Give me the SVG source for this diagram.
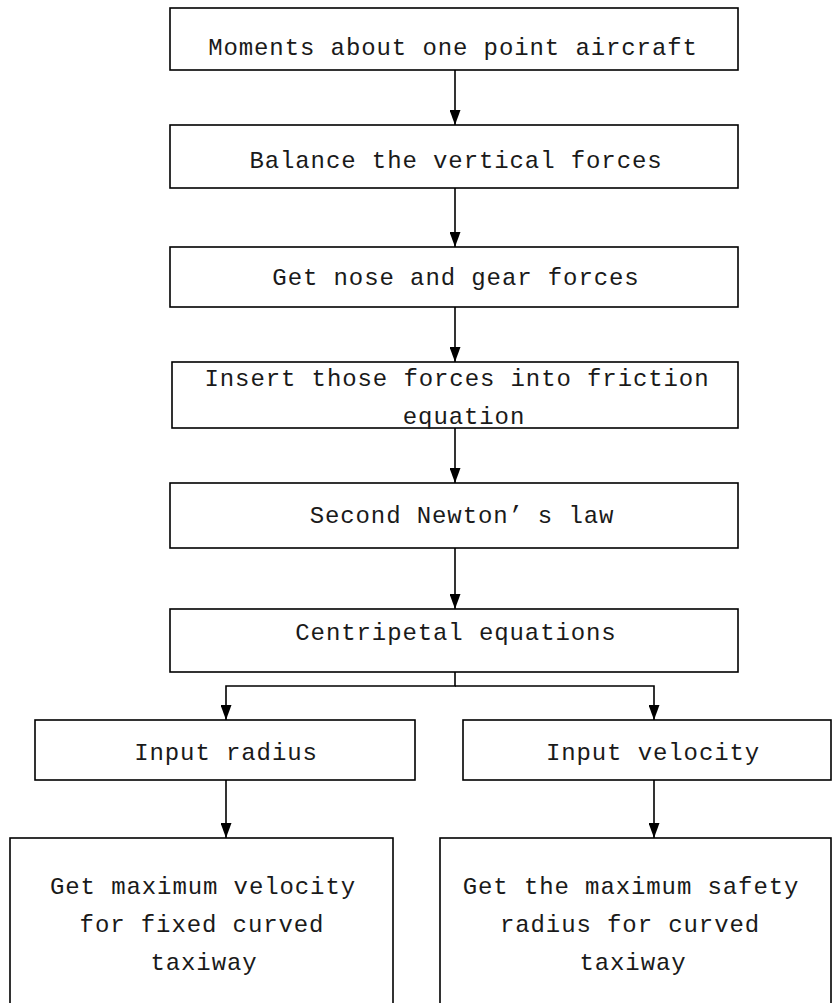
<svg xmlns="http://www.w3.org/2000/svg" width="833" height="1003" viewBox="0 0 833 1003">
<style>
.box{fill:#fff;stroke:#000;stroke-width:1.6}
.t{font-family:"Liberation Mono",monospace;font-size:24px;letter-spacing:0.9px;fill:#1a1a1a;text-anchor:middle}
.c{fill:none;stroke:#000;stroke-width:1.6}
</style>
<defs>
<marker id="ah" markerWidth="15" markerHeight="11" refX="15" refY="5.5" orient="auto" markerUnits="userSpaceOnUse" viewBox="0 0 15 11">
<path d="M0,0 L15,5.5 L0,11 Z" fill="#000"/>
</marker>
</defs>
<rect width="833" height="1003" fill="#fff"/>
<g id="connectors">
<line class="c" x1="455" y1="70" x2="455" y2="125" marker-end="url(#ah)"/>
<line class="c" x1="455" y1="188" x2="455" y2="247" marker-end="url(#ah)"/>
<line class="c" x1="455" y1="307" x2="455" y2="362" marker-end="url(#ah)"/>
<line class="c" x1="455" y1="428" x2="455" y2="483" marker-end="url(#ah)"/>
<line class="c" x1="455" y1="548" x2="455" y2="609" marker-end="url(#ah)"/>
<polyline class="c" points="455,672 455,686 226,686 226,720" marker-end="url(#ah)"/>
<polyline class="c" points="455,686 654,686 654,720" marker-end="url(#ah)"/>
<line class="c" x1="226" y1="780" x2="226" y2="838" marker-end="url(#ah)"/>
<line class="c" x1="654" y1="780" x2="654" y2="838" marker-end="url(#ah)"/>
</g>
<g id="n1"><rect class="box" x="170" y="8" width="568" height="62"/><text class="t" x="453" y="55">Moments about one point aircraft</text></g>
<g id="n2"><rect class="box" x="170" y="125" width="568" height="63"/><text class="t" x="456" y="168">Balance the vertical forces</text></g>
<g id="n3"><rect class="box" x="170" y="247" width="568" height="60"/><text class="t" x="456" y="285">Get nose and gear forces</text></g>
<g id="n4"><rect class="box" x="172" y="362" width="566" height="66"/><text class="t" x="457" y="386">Insert those forces into friction</text><text class="t" x="464" y="424">equation</text></g>
<g id="n5"><rect class="box" x="170" y="483" width="568" height="65"/><text class="t" x="462" y="523">Second Newton’<tspan dx="14">s law</tspan></text></g>
<g id="n6"><rect class="box" x="170" y="609" width="568" height="63"/><text class="t" x="456" y="640">Centripetal equations</text></g>
<g id="n7"><rect class="box" x="35" y="720" width="380" height="60"/><text class="t" x="226" y="760">Input radius</text></g>
<g id="n8"><rect class="box" x="463" y="720" width="368" height="60"/><text class="t" x="653" y="760">Input velocity</text></g>
<g id="n9"><rect class="box" x="10" y="838" width="383" height="180"/><text class="t" x="203" y="894">Get maximum velocity</text><text class="t" x="202" y="932">for fixed curved</text><text class="t" x="204" y="970">taxiway</text></g>
<g id="n10"><rect class="box" x="440" y="838" width="391" height="180"/><text class="t" x="631" y="894">Get the maximum safety</text><text class="t" x="630" y="932">radius for curved</text><text class="t" x="633" y="970">taxiway</text></g>
</svg>
